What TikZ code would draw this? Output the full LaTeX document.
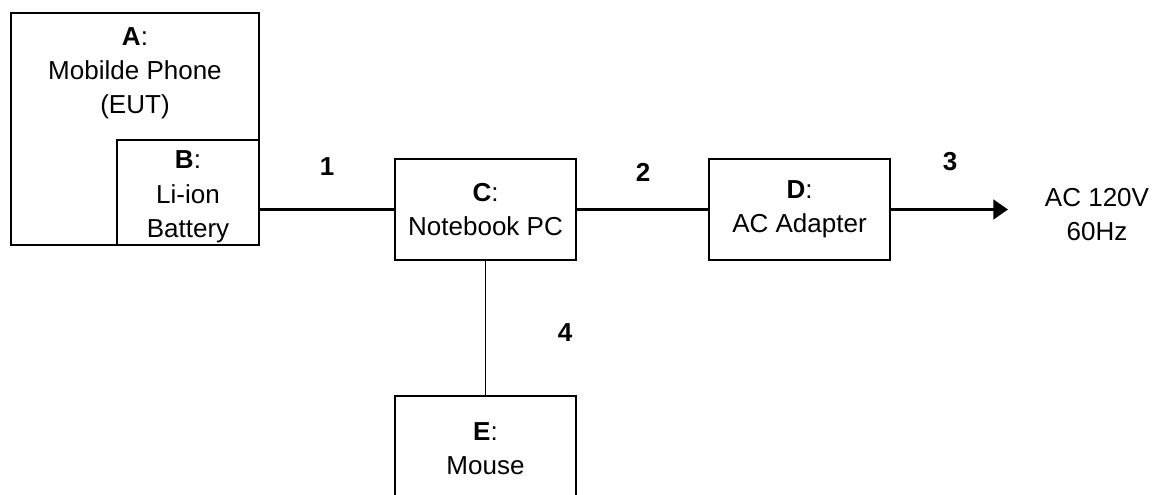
\documentclass[tikz,border=0pt]{standalone}
\usepackage{fontspec}
\setmainfont{Liberation Sans}
\usetikzlibrary{arrows.meta}
\tikzset{
  unit/.style={draw, line width=1.2pt, minimum width=4.525cm, minimum height=2.525cm,
    align=center, inner sep=0pt, font=\fontsize{18.5}{24.5}\selectfont},
  txt/.style={align=center, font=\fontsize{18.5}{24.5}\selectfont},
  num/.style={font=\fontsize{18.5}{24.5}\selectfont\bfseries},
  cable/.style={line width=2.2pt}
}
\begin{document}
\begin{tikzpicture}[x=1cm, y=-1cm]
  \useasboundingbox (0,0) rectangle (29.1,12.35);

  % phone with battery inside
  \node[unit, minimum width=6.2cm, minimum height=5.8cm] (A) at (3.375, 3.225) {};
  \node[txt] (Atext) at (3.375, 1.83) {\textbf{A}:\\Mobilde Phone\\(EUT)};
  \node[unit, fill=white, minimum width=3.55cm, minimum height=2.625cm] (B) at (4.7, 4.8125) {};
  \node[txt] (Btext) at (4.7, 4.92) {\textbf{B}:\\Li-ion\\Battery};

  \node[unit] (C) at (12.1375, 5.2375) {\textbf{C}:\\Notebook PC};
  \node[unit] (D) at (19.9875, 5.2375) {\textbf{D}:\\AC Adapter};
  \node[unit, minimum height=2.625cm] (E) at (12.1375, 11.2125) {\textbf{E}:\\Mouse};

  \node[txt] (mains) at (27.425, 5.36) {AC 120V\\60Hz};
  \coordinate (plug) at (25.2, 5.2375);

  % cables
  \draw[cable] (C.west -| B.east) -- (C.west);
  \draw[cable] (C.east) -- (D.west);
  \draw[cable, -{Triangle[length=10.5pt, width=14pt]}] (D.east) -- (plug);
  \draw[line width=1pt] (C.south) -- (E.north);

  \foreach \n / \x / \y in {1/8.175/4.175, 2/16.075/4.3, 3/23.75/4.05, 4/14.125/8.325}
    {
      \node[num] (num\n) at (\x, \y) {\n};
    }
\end{tikzpicture}
\end{document}
